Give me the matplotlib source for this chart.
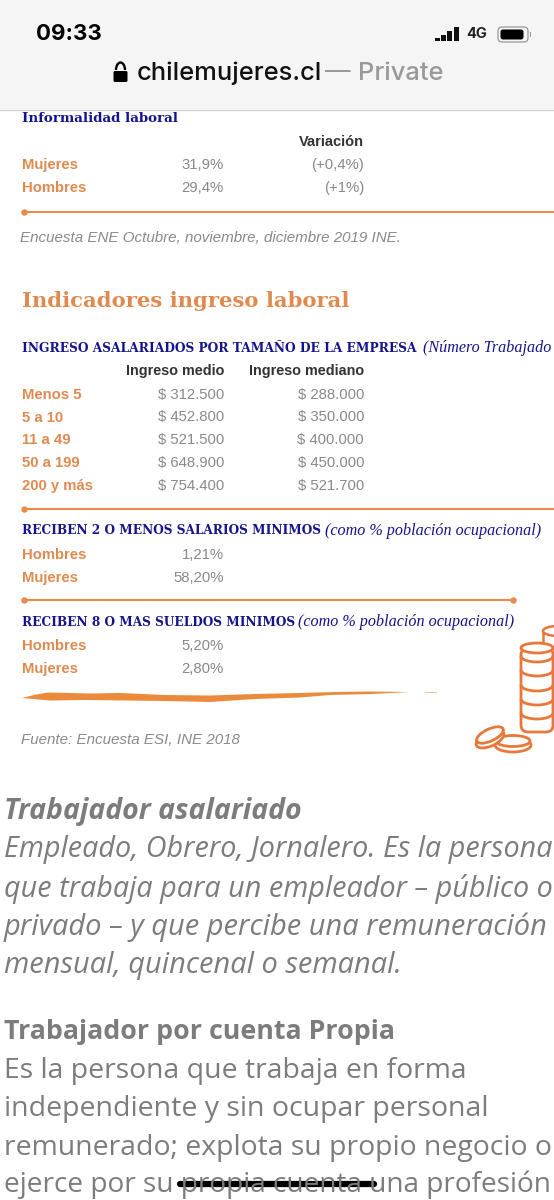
import matplotlib
matplotlib.use('Agg')
import matplotlib.pyplot as plt
from matplotlib.patches import Ellipse, FancyBboxPatch, Rectangle, Arc, Polygon

# ---- DATA ----
inf_rows = ['Mujeres', 'Hombres']
inf_values = ['31,9%', '29,4%']
inf_changes = ['(+0,4%)', '(+1%)']

size_rows = ['Menos 5', '5 a 10', '11 a 49', '50 a 199', '200 y más']
size_mean = ['$ 312.500', '$ 452.800', '$ 521.500', '$ 648.900', '$ 754.400']
size_median = ['$ 288.000', '$ 350.000', '$ 400.000', '$ 450.000', '$ 521.700']

two_rows = ['Hombres', 'Mujeres']
two_values = ['1,21%', '58,20%']
eight_rows = ['Hombres', 'Mujeres']
eight_values = ['5,20%', '2,80%']

body_lines = [
    ('Trabajador asalariado', 811, 'bold', 'italic', 20.5),
    ('Empleado, Obrero, Jornalero. Es la persona', 850, 'normal', 'italic', 20.7),
    ('que trabaja para un empleador – público o', 889, 'normal', 'italic', 20.7),
    ('privado – y que percibe una remuneración', 927, 'normal', 'italic', 20.9),
    ('mensual, quincenal o semanal.', 965, 'normal', 'italic', 20.9),
    ('Trabajador por cuenta Propia', 1032, 'bold', 'normal', 19.3),
    ('Es la persona que trabaja en forma', 1071, 'normal', 'normal', 20.4),
    ('independiente y sin ocupar personal', 1109, 'normal', 'normal', 20.5),
    ('remunerado; explota su propio negocio o', 1148, 'normal', 'normal', 20.4),
    ('ejerce por su propia cuenta una profesión', 1185, 'normal', 'normal', 20.2),
]

ORANGE = '#e08a50'
LINE = '#ea8a4c'
NAVY = '#14148c'
GREY = '#8a8a8a'
SANS = 'Liberation Sans'
SERIF = 'Liberation Serif'
SLAB = 'DejaVu Serif'
LEFT = 22
COL1 = 224
COL2 = 364

fig = plt.figure(figsize=(5.54, 12.0), dpi=100)
ax = fig.add_axes([0, 0, 1, 1])
ax.set_xlim(0, 554)
ax.set_ylim(1200, 0)
ax.axis('off')


def label(x, y, s, **kw):
    kw.setdefault('family', SANS)
    kw.setdefault('va', 'center')
    ax.text(x, y, s, clip_on=True, **kw)


def rule(y, x1, end_dot=False):
    ax.plot([LEFT, x1], [y, y], color=LINE, lw=1.5, solid_capstyle='butt')
    ax.plot([24], [y], 'o', color=LINE, ms=3.6)
    if end_dot:
        ax.plot([x1], [y], 'o', color=LINE, ms=3.6)


def table_row(y, row, *cells):
    label(LEFT, y + 0.7, row, fontsize=10.7, weight='bold', color=ORANGE)
    for x, s in cells:
        label(x, y + 0.7, s, fontsize=10.7, color=GREY, ha='right')


# browser header
ax.add_patch(Rectangle((0, 0), 554, 109, color='#f5f5f6', lw=0))
ax.plot([0, 554], [109.5, 109.5], color='#cfcfcf', lw=1)
label(36, 34, '09:33', fontsize=16, weight='bold', color='black', family='Inter')
for bx, top in zip([435, 441, 447, 454], [38, 35, 31, 27]):
    ax.add_patch(Rectangle((bx, top), 4.5, 41 - top, color='#111111', lw=0))
label(466, 34.5, '4G', fontsize=10.5, weight='bold', color='#222222', family='Inter')
ax.add_patch(FancyBboxPatch((498, 27), 30, 15, boxstyle='round,pad=0,rounding_size=4', fc='none', ec='#999999', lw=0.9))
ax.add_patch(FancyBboxPatch((500.5, 29.5), 23, 10, boxstyle='round,pad=0,rounding_size=2.5', fc='black', lw=0))
ax.add_patch(Rectangle((529.5, 32), 1.3, 5, color='#999999', lw=0))
ax.add_patch(FancyBboxPatch((113.5, 71), 14, 11, boxstyle='round,pad=0,rounding_size=1.5', fc='black', lw=0))
ax.add_patch(Arc((120.5, 70), 9, 15, theta1=180, theta2=360, color='black', lw=1.7))
label(137, 73, 'chilemujeres.cl', fontsize=18.4, weight='medium', color='#111111', family='Inter')
label(325, 73, '—', fontsize=18.4, color='#999999', family='Inter')
label(358, 73, 'Private', fontsize=18.4, weight='medium', color='#999999', family='Inter')

# informalidad
label(LEFT, 118, 'Informalidad laboral', fontsize=9.6, weight='bold', color=NAVY, family=SLAB)
label(COL2, 141.5, 'Variación', fontsize=10.5, weight='bold', color='#333333', ha='right')
for i, row in enumerate(inf_rows):
    table_row(164 + i * 23, row, (COL1, inf_values[i]), (COL2, inf_changes[i]))
rule(212, 554)
label(20, 238.5, 'Encuesta ENE Octubre, noviembre, diciembre 2019 INE.', fontsize=10.9, style='italic', color=GREY)

# ingreso laboral
label(LEFT, 301, 'Indicadores ingreso laboral', fontsize=15.2, weight='bold', color=ORANGE, family=SLAB)
label(LEFT, 348, 'INGRESO ASALARIADOS POR TAMAÑO DE LA EMPRESA', fontsize=8.85, weight='bold', color=NAVY, family=SLAB)
label(423, 348, '(Número Trabajado', fontsize=11.6, style='italic', color=NAVY, family=SERIF)
label(COL1, 371.5, 'Ingreso medio', fontsize=10.4, weight='bold', color='#333333', ha='right')
label(COL2, 371.5, 'Ingreso mediano', fontsize=10.4, weight='bold', color='#333333', ha='right')
for i, row in enumerate(size_rows):
    table_row(394 + i * 22.8, row, (COL1, size_mean[i]), (COL2, size_median[i]))
rule(509, 554)

# salarios minimos
label(LEFT, 531, 'RECIBEN 2 O MENOS SALARIOS MINIMOS', fontsize=8.7, weight='bold', color=NAVY, family=SLAB)
label(325, 531, '(como % población ocupacional)', fontsize=11.6, style='italic', color=NAVY, family=SERIF)
for i, row in enumerate(two_rows):
    table_row(554 + i * 23, row, (COL1, two_values[i]))
rule(600, 513, end_dot=True)
label(LEFT, 622, 'RECIBEN 8 O MAS SUELDOS MINIMOS', fontsize=8.7, weight='bold', color=NAVY, family=SLAB)
label(298, 622, '(como % población ocupacional)', fontsize=11.6, style='italic', color=NAVY, family=SERIF)
for i, row in enumerate(eight_rows):
    table_row(645 + i * 23, row, (COL1, eight_values[i]))

# brush stroke
ax.add_patch(Polygon([(22, 698), (34, 695), (48, 692.5), (90, 693.5), (120, 693), (165, 695), (210, 695.5), (255, 694),
                      (300, 693), (335, 692), (370, 691.5), (410, 692), (372, 694), (330, 695), (300, 697.5),
                      (255, 699), (210, 702), (165, 701), (125, 700.5), (85, 700), (50, 700.5)], color='#ec8a3c', lw=0))
ax.add_patch(Rectangle((425, 692), 12, 1.2, color='#f3c49c', lw=0))
label(21, 740, 'Fuente: Encuesta ESI, INE 2018', fontsize=10.9, style='italic', color=GREY)

# coins
COIN = '#e9773a'
ax.add_patch(Rectangle((543, 631), 30, 16, fc='white', ec=COIN, lw=1.8))
ax.add_patch(Ellipse((558, 631), 30, 10, fc='white', ec=COIN, lw=1.8))
ax.add_patch(FancyBboxPatch((521, 648), 32, 84, boxstyle='round,pad=0,rounding_size=7', fc='white', ec=COIN, lw=2))
ax.add_patch(Ellipse((537, 648), 32, 10, fc='white', ec=COIN, lw=2))
for y in [661, 675, 690, 704, 718]:
    ax.add_patch(Arc((537, y - 5), 32, 12, theta1=0, theta2=180, color=COIN, lw=2))
ax.add_patch(Ellipse((513, 745), 36, 14, fc='white', ec=COIN, lw=2))
ax.add_patch(Ellipse((513, 741), 34, 11, fc='white', ec=COIN, lw=2))
ax.add_patch(Ellipse((490, 739), 30, 14, angle=-25, fc='white', ec=COIN, lw=2))
ax.add_patch(Ellipse((490, 735), 29, 12, angle=-25, fc='white', ec=COIN, lw=2))

# body copy
for s, y, w, st, fs in body_lines:
    label(4, y, s, fontsize=fs, weight=w, style=st, color='#7c7c7c', family='Open Sans')

# home bar
ax.plot([180, 374], [1184, 1184], color='black', lw=4.5, solid_capstyle='round')

fig.savefig('out.png', dpi=100)
